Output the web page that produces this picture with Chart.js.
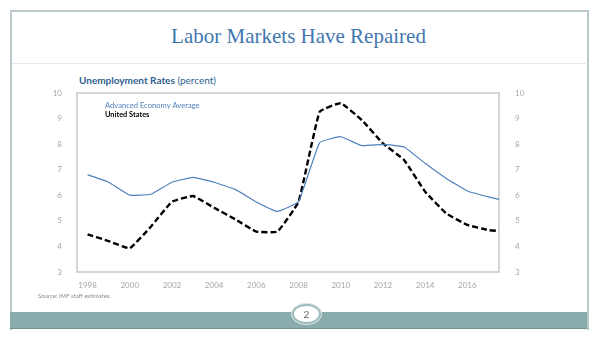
<!DOCTYPE html>
<html>
<head>
<meta charset="utf-8">
<script src="https://cdn.jsdelivr.net/npm/chart.js@4"></script>
<style>
  body { margin: 0; width: 597px; height: 337px; background: #fff; position: relative; overflow: hidden; font-family: Lato, "Open Sans", sans-serif; }
  #frame { position: absolute; left: 10px; top: 10px; width: 575px; height: 318px; border: 2px solid #b9c9cc; border-bottom: none; }
  #title { position: absolute; left: 0; top: 24px; width: 597px; text-align: center; font-family: "Liberation Serif", serif; font-size: 21px; color: #3f77b0; }
  #sep { position: absolute; left: 12px; top: 63px; width: 573px; border-top: 1px dotted #c9d7dc; }
  #subtitle { position: absolute; left: 79px; top: 74px; font-size: 10px; color: #2f5f8f; }
  #subtitle b { font-weight: 700; }
  #source { position: absolute; left: 38px; top: 292px; font-size: 6px; color: #8c8c8c; }
  #band { position: absolute; left: 10px; top: 312px; width: 577px; height: 16px; background: #8aabab; border-bottom: 1px solid #6f9292; }
  #page { position: absolute; left: 292px; top: 304px; width: 25px; height: 16px; border-radius: 50%; background: #fff; border: 2px solid #9dbaba; box-shadow: 0 0 0 1px #d6e3e3; text-align: center; font-size: 10px; line-height: 16px; color: #666; }
  #wrap { position: absolute; left: 40px; top: 80px; width: 520px; height: 220px; }
</style>
</head>
<body>
<div id="frame"></div>
<div id="title">Labor Markets Have Repaired</div>
<div id="sep"></div>
<div id="subtitle"><b>Unemployment Rates</b> (percent)</div>
<div id="wrap"><canvas id="myChart"></canvas></div>
<div id="source">Source: IMF staff estimates.</div>
<div id="band"></div>
<div id="page">2</div>
<script>
// years (last point is mid-2017, where the series runs into the frame)
const years = [1998, 1999, 2000, 2001, 2002, 2003, 2004, 2005, 2006, 2007, 2008, 2009, 2010, 2011, 2012, 2013, 2014, 2015, 2016, 2017, 2017.5];
const advanced = [6.8, 6.51, 6.0, 6.04, 6.51, 6.7, 6.51, 6.23, 5.74, 5.37, 5.75, 8.06, 8.29, 7.94, 7.99, 7.89, 7.25, 6.66, 6.17, 5.94, 5.84];
const unitedStates = [4.47, 4.21, 3.93, 4.77, 5.75, 5.97, 5.51, 5.06, 4.58, 4.58, 5.75, 9.27, 9.6, 8.94, 8.03, 7.38, 6.14, 5.29, 4.84, 4.64, 4.6];
const yearTicks = [1998, 2000, 2002, 2004, 2006, 2008, 2010, 2012, 2014, 2016];
const seriesNames = ['Advanced Economy Average', 'United States'];

const toPoints = vals => vals.map((v, i) => ({ x: years[i], y: v }));

// legend written inside the plot, no swatches
const inlineLegend = {
  id: 'inlineLegend',
  afterDatasetsDraw(chart) {
    const ctx = chart.ctx;
    const a = chart.chartArea;
    ctx.save();
    ctx.font = '7.6px Lato, sans-serif';
    ctx.textBaseline = 'middle';
    ctx.fillStyle = '#4f81bd';
    ctx.fillText(chart.data.datasets[0].label, a.left + 28, a.top + 13);
    ctx.font = 'bold 7.4px Lato, sans-serif';
    ctx.fillStyle = '#000';
    ctx.fillText(chart.data.datasets[1].label, a.left + 28, a.top + 22);
    ctx.restore();
  }
};

// thin gray box round the plot
const plotBox = {
  id: 'plotBox',
  beforeDatasetsDraw(chart) {
    const ctx = chart.ctx;
    const a = chart.chartArea;
    ctx.save();
    ctx.strokeStyle = '#c8c8c8';
    ctx.lineWidth = 1.5;
    ctx.strokeRect(a.left, a.top, a.right - a.left, a.bottom - a.top);
    ctx.restore();
  }
};

const ctx = document.getElementById('myChart');
new Chart(ctx, {
  type: 'line',
  data: {
    datasets: [{
      label: seriesNames[0],
      data: toPoints(advanced),
      borderColor: '#4f81bd',
      borderWidth: 1.2,
      pointRadius: 0,
      tension: 0.1
    }, {
      label: seriesNames[1],
      data: toPoints(unitedStates),
      borderColor: '#000',
      borderWidth: 2.4,
      borderDash: [6, 3],
      pointRadius: 0,
      tension: 0.1
    }]
  },
  plugins: [plotBox, inlineLegend],
  options: {
    responsive: true,
    maintainAspectRatio: false,
    animation: false,
    layout: { padding: { top: 13, left: 0, right: 0, bottom: 0 } },
    plugins: { legend: { display: false }, tooltip: { enabled: false } },
    scales: {
      x: {
        type: 'linear',
        min: 1997.5,
        max: 2017.5,
        afterBuildTicks: scale => { scale.ticks = yearTicks.map(v => ({ value: v })); },
        afterFit: scale => { scale.height = 28; },
        grid: { display: false },
        border: { display: false },
        ticks: { color: '#a6a6a6', font: { size: 8, family: 'Lato' }, padding: 1, maxRotation: 0, callback: v => String(v) }
      },
      y: {
        position: 'left',
        min: 3,
        max: 10,
        afterFit: scale => { scale.width = 37; },
        grid: { display: false },
        border: { display: false },
        ticks: { stepSize: 1, color: '#a6a6a6', font: { size: 8, family: 'Lato' }, padding: 7 }
      },
      y2: {
        position: 'right',
        min: 3,
        max: 10,
        afterFit: scale => { scale.width = 61; },
        grid: { display: false },
        border: { display: false },
        ticks: { stepSize: 1, color: '#a6a6a6', font: { size: 8, family: 'Lato' }, padding: 8 }
      }
    }
  }
});
</script>
</body>
</html>
